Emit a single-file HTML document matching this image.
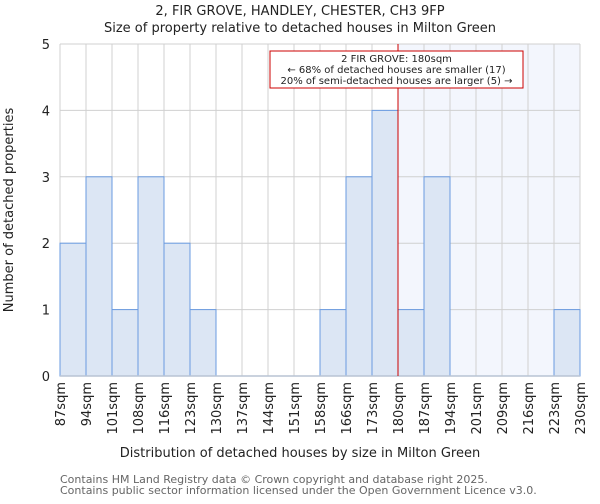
<!DOCTYPE html>
<html><head><meta charset="utf-8"><style>
body{margin:0;background:#fff;font-family:"DejaVu Sans","Liberation Sans",sans-serif;}
text{font-family:"DejaVu Sans","Liberation Sans",sans-serif;}
</style></head><body>
<svg id="chart" width="600" height="500" xmlns="http://www.w3.org/2000/svg">
<rect width="600" height="500" fill="#fff"/>
<text x="300" y="15" font-size="13" text-anchor="middle" fill="#222">2, FIR GROVE, HANDLEY, CHESTER, CH3 9FP</text>
<text x="300" y="32" font-size="13" text-anchor="middle" fill="#222">Size of property relative to detached houses in Milton Green</text>
<g id="plot"></g>
<text x="300" y="457" font-size="13" text-anchor="middle" fill="#222">Distribution of detached houses by size in Milton Green</text>
<text transform="translate(13,210) rotate(-90)" font-size="13" text-anchor="middle" fill="#222">Number of detached properties</text>
<text x="60" y="483" font-size="11" fill="#666">Contains HM Land Registry data © Crown copyright and database right 2025.</text>
<text x="60" y="494" font-size="11" fill="#666">Contains public sector information licensed under the Open Government Licence v3.0.</text>
</svg>
<script>
const categories=["87sqm","94sqm","101sqm","108sqm","116sqm","123sqm","130sqm","137sqm","144sqm","151sqm","158sqm","166sqm","173sqm","180sqm","187sqm","194sqm","201sqm","209sqm","216sqm","223sqm","230sqm"];
const counts=[2,3,1,3,2,1,0,0,0,0,1,3,4,1,3,0,0,0,0,1];
const yTicks=[0,1,2,3,4,5];
const markerIndex=13;
const annotation=["2 FIR GROVE: 180sqm","← 68% of detached houses are smaller (17)","20% of semi-detached houses are larger (5) →"];
const NS="http://www.w3.org/2000/svg";
const g=document.getElementById('plot');
const X0=60,X1=580,Y0=376,Y1=44,YMAX=5;
const bw=(X1-X0)/counts.length;
const xs=i=>X0+i*bw;
const ys=v=>Y0-(v/YMAX)*(Y0-Y1);
function mk(t,a){const e=document.createElementNS(NS,t);for(const k in a)e.setAttribute(k,a[k]);g.appendChild(e);return e;}
let e=mk('rect',{x:xs(markerIndex),y:Y1,width:X1-xs(markerIndex),height:Y0-Y1,fill:'#f3f6fd'});


for(let i=0;i<=counts.length;i++){e=mk('line',{x1:xs(i),x2:xs(i),y1:Y1,y2:Y0,stroke:'#d0d0d0','stroke-width':1});

}
yTicks.forEach(t=>{e=mk('line',{x1:X0,x2:X1,y1:ys(t),y2:ys(t),stroke:'#d0d0d0','stroke-width':1});


e=mk('text',{x:X0-10,y:ys(t)+5,'font-size':13,'text-anchor':'end',fill:'#222'});e.textContent=t;

});
counts.forEach((c,i)=>{if(c>0){e=mk('rect',{x:xs(i),y:ys(c),width:bw,height:Y0-ys(c),fill:i>=markerIndex?'#dce6f4':'#dce6f4',stroke:'#6a9be0','stroke-width':1});

}});
e=mk('line',{x1:X0,x2:X1,y1:Y0,y2:Y0,stroke:'#b8c4d4','stroke-width':1.5});


categories.forEach((c,i)=>{e=mk('text',{transform:`translate(${xs(i)+5},382) rotate(-90)`,'font-size':13,'text-anchor':'end',fill:'#222'});e.textContent=c;

});
e=mk('line',{x1:xs(markerIndex),x2:xs(markerIndex),y1:Y1,y2:Y0,stroke:'#cc0000','stroke-width':1});


e=mk('rect',{x:270,y:51,width:253,height:37,fill:'#fff',stroke:'#cc0000','stroke-width':1});


annotation.forEach((s,i)=>{e=mk('text',{x:396.5,y:62+i*11,'font-size':10,'text-anchor':'middle',fill:'#222'});e.textContent=s;

});
</script>
</body></html>
